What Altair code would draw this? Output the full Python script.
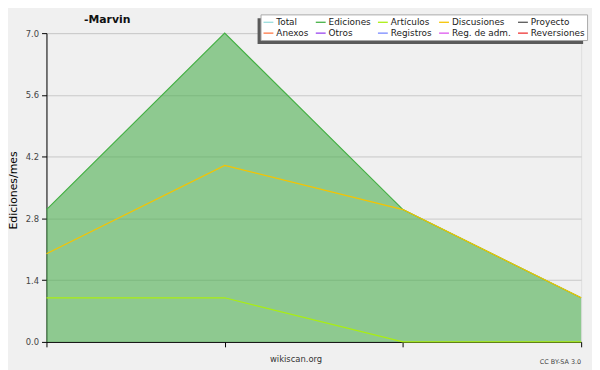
import altair as alt
import pandas as pd

# time points (unlabelled months)
steps = [0, 1, 2, 3]
ediciones = [3, 7, 3, 1]
discusiones = [2, 4, 3, 1]
articulos = [1, 1, 0, 0]

series_names = ["Total", "Ediciones", "Artículos", "Discusiones", "Proyecto",
                "Anexos", "Otros", "Registros", "Reg. de adm.", "Reversiones"]
series_colors = ["#99dddd", "#44b044", "#aaee11", "#f5c400", "#555555",
                 "#ff7744", "#9944ee", "#7788ff", "#dd55ee", "#ee3333"]

y_ticks = [round(i * 0.35, 2) for i in range(21)]

area_df = pd.DataFrame({"i": steps, "v": ediciones})
lines_df = pd.DataFrame({
    "i": steps * 3,
    "v": ediciones + discusiones + articulos,
    "serie": ["Ediciones"] * 4 + ["Discusiones"] * 4 + ["Artículos"] * 4,
})

W, H = 542, 313
FONT = "DejaVu Sans"

major_test = "abs(datum.value/1.4 - round(datum.value/1.4)) < 0.01"

x_enc = alt.X("i:Q", scale=alt.Scale(domain=[0, 3], nice=False),
              axis=alt.Axis(values=steps, labels=False, title=None, grid=False,
                            tickSize=5, tickColor="black", domainColor="black"))
y_enc = alt.Y("v:Q", scale=alt.Scale(domain=[0, 7], nice=False),
              axis=alt.Axis(values=y_ticks, title="Ediciones/mes",
                            labelExpr=f"({major_test}) ? format(datum.value, '.1f') : ''",
                            gridOpacity={"condition": {"test": major_test, "value": 1}, "value": 0},
                            gridColor="#c8c8c8", tickSize=5, tickColor="black",
                            domainColor="black", labelFontSize=8.5, labelColor="#444444",
                            labelPadding=3, titleFontSize=11, titleFontWeight="normal",
                            titleColor="#000000", titleX=-33, titleY=159,
                            titleAngle=270, titleBaseline="middle", titleAlign="center"))

area = alt.Chart(area_df).mark_area(color="#4caf50", opacity=0.6).encode(x=x_enc, y=y_enc)

lines = alt.Chart(lines_df).mark_line(strokeWidth=1.2).encode(
    x="i:Q", y="v:Q",
    color=alt.Color("serie:N",
                    scale=alt.Scale(domain=series_names, range=series_colors),
                    sort=series_names,
                    legend=alt.Legend(title=None, orient="none", legendX=217, legendY=-19,
                                      direction="horizontal", columns=5, gridAlign="each",
                                      symbolType="stroke", symbolSize=100,
                                      symbolStrokeWidth=1.3, labelFontSize=9,
                                      labelFont=FONT, labelColor="#222222",
                                      columnPadding=4, rowPadding=-1, padding=2,
                                      labelOffset=2, fillColor="white",
                                      strokeColor="#aaaaaa", cornerRadius=0)),
)

deco_df = pd.DataFrame({"k": [0]})
shadow = alt.Chart(deco_df).mark_rect(color="#5a5a5a").encode(
    x=alt.value(214), x2=alt.value(544), y=alt.value(-15), y2=alt.value(11))

title = alt.Chart(deco_df).mark_text(text="-Marvin", fontWeight="bold", fontSize=11,
                                     font=FONT, align="left", baseline="alphabetic",
                                     color="#111111").encode(x=alt.value(38), y=alt.value(-10))
footer = alt.Chart(deco_df).mark_text(text="wikiscan.org", fontSize=8.5, font=FONT,
                                      align="center", baseline="middle",
                                      color="#333333").encode(x=alt.value(253), y=alt.value(330))
cc = alt.Chart(deco_df).mark_text(text="CC BY-SA 3.0", fontSize=6.5, font=FONT,
                                  align="right", baseline="middle",
                                  color="#444444").encode(x=alt.value(W), y=alt.value(333))

chart = alt.layer(area, lines, shadow, title, footer, cc).properties(
    width=W, height=H,
    autosize=alt.AutoSizeParams(type="none"),
    padding={"left": 39, "top": 23, "right": 11, "bottom": 26},
    background="#f0f0f0",
).configure_view(fill="#eeeff1", stroke=None).configure(font=FONT)

chart.save("out.html", embed_options={"renderer": "svg", "actions": False})
